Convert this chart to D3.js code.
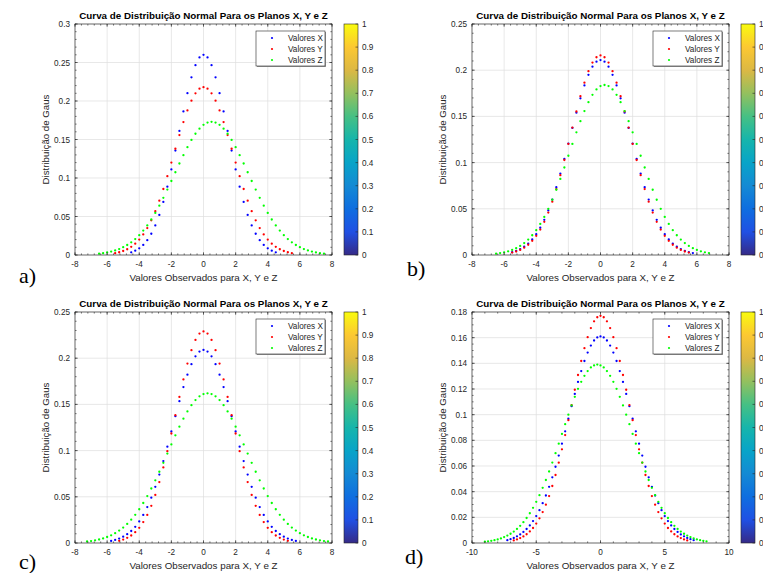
<!DOCTYPE html>
<html>
<head>
<meta charset="utf-8">
<script src="https://cdn.jsdelivr.net/npm/d3@7"></script>
<style>
  body { margin: 0; background: #fff; }
  svg { display: block; }
</style>
</head>
<body>
<svg id="fig" width="763" height="573"></svg>
<script>
// Four panels of normal curves (X, Y, Z), one x grid per panel
const seriesNames = ["Valores X", "Valores Y", "Valores Z"];
const seriesColors = ["#0000ff", "#ff0000", "#00ff00"];
const titleText = "Curva de Distribuição Normal Para os Planos X, Y e Z";
const xLabelText = "Valores Observados para X, Y e Z";
const yLabelText = "Distribuição de Gaus";

// panel a)
const xA = [-6.5, -6.25, -6, -5.75, -5.5, -5.25, -5, -4.75, -4.5, -4.25, -4, -3.75, -3.5, -3.25, -3, -2.75, -2.5, -2.25, -2, -1.75, -1.5, -1.25, -1, -0.75, -0.5, -0.25, 0, 0.25, 0.5, 0.75, 1, 1.25, 1.5, 1.75, 2, 2.25, 2.5, 2.75, 3, 3.25, 3.5, 3.75, 4, 4.25, 4.5, 4.75, 5, 5.25, 5.5, 5.75, 6, 6.25, 6.5, 6.75, 7, 7.25, 7.5];
const yA_X = [null, null, null, null, null, null, null, null,
  0.0035, 0.0056, 0.0087, 0.0131, 0.0193, 0.0276, 0.0384, 0.0521, 0.0689, 0.0887, 0.1111, 0.1356, 0.1612, 0.1865, 0.2102, 0.2307, 0.2465, 0.2566, 0.2600,
  0.2566, 0.2465, 0.2307, 0.2102, 0.1865, 0.1612, 0.1356, 0.1111, 0.0887, 0.0689, 0.0521, 0.0384, 0.0276, 0.0193, 0.0131, 0.0087, 0.0056, 0.0035,
  null, null, null, null, null, null, null, null, null, null, null, null];
const yA_Y = [null, null, null, null,
  0.0024, 0.0036, 0.0052, 0.0075, 0.0106, 0.0147, 0.0200, 0.0267, 0.0350, 0.0450, 0.0569, 0.0705, 0.0857, 0.1024, 0.1200, 0.1380, 0.1558, 0.1726, 0.1878, 0.2004, 0.2100, 0.2160, 0.2180,
  0.2160, 0.2100, 0.2004, 0.1878, 0.1726, 0.1558, 0.1380, 0.1200, 0.1024, 0.0857, 0.0705, 0.0569, 0.0450, 0.0350, 0.0267, 0.0200, 0.0147, 0.0106, 0.0075, 0.0052, 0.0036, 0.0024,
  null, null, null, null, null, null, null, null];
const yA_Z = [0.0017, 0.0024, 0.0033, 0.0044, 0.0059, 0.0077, 0.0101, 0.0130, 0.0165, 0.0207, 0.0258, 0.0317, 0.0384, 0.0461, 0.0547, 0.0641, 0.0742, 0.0850, 0.0961, 0.1075, 0.1188, 0.1297, 0.1400, 0.1494, 0.1575, 0.1641, 0.1690, 0.1720, 0.1730,
  0.1720, 0.1690, 0.1641, 0.1575, 0.1494, 0.1400, 0.1297, 0.1188, 0.1075, 0.0961, 0.0850, 0.0742, 0.0641, 0.0547, 0.0461, 0.0384, 0.0317, 0.0258, 0.0207, 0.0165, 0.0130, 0.0101, 0.0077, 0.0059, 0.0044, 0.0033, 0.0024, 0.0017];

// panel b)
const xB = [-6.5, -6.25, -6, -5.75, -5.5, -5.25, -5, -4.75, -4.5, -4.25, -4, -3.75, -3.5, -3.25, -3, -2.75, -2.5, -2.25, -2, -1.75, -1.5, -1.25, -1, -0.75, -0.5, -0.25, 0, 0.25, 0.5, 0.75, 1, 1.25, 1.5, 1.75, 2, 2.25, 2.5, 2.75, 3, 3.25, 3.5, 3.75, 4, 4.25, 4.5, 4.75, 5, 5.25, 5.5, 5.75, 6, 6.25, 6.5, 6.75];
const yB_X = [null, null, null, null,
  0.0031, 0.0045, 0.0064, 0.0090, 0.0124, 0.0169, 0.0225, 0.0295, 0.0381, 0.0482, 0.0600, 0.0733, 0.0881, 0.1040, 0.1206, 0.1375, 0.1540, 0.1696, 0.1835, 0.1950, 0.2038, 0.2092, 0.2110,
  0.2092, 0.2038, 0.1950, 0.1835, 0.1696, 0.1540, 0.1375, 0.1206, 0.1040, 0.0881, 0.0733, 0.0600, 0.0482, 0.0381, 0.0295, 0.0225, 0.0169, 0.0124, 0.0090, 0.0064, 0.0045, 0.0031, 0.0021,
  null, null, null, null];
const yB_Y = [null, null, null, null,
  0.0026, 0.0038, 0.0055, 0.0079, 0.0111, 0.0153, 0.0207, 0.0275, 0.0359, 0.0459, 0.0577, 0.0713, 0.0864, 0.1028, 0.1202, 0.1379, 0.1553, 0.1718, 0.1865, 0.1989, 0.2082, 0.2140, 0.2160,
  0.2140, 0.2082, 0.1989, 0.1865, 0.1718, 0.1553, 0.1379, 0.1202, 0.1028, 0.0864, 0.0713, 0.0577, 0.0459, 0.0359, 0.0275, 0.0207, 0.0153, 0.0111, 0.0079, 0.0055, 0.0038, 0.0026,
  null, null, null, null, null];
const yB_Z = [0.0014, 0.0021, 0.0029, 0.0040, 0.0055, 0.0074, 0.0098, 0.0129, 0.0167, 0.0214, 0.0269, 0.0336, 0.0412, 0.0500, 0.0598, 0.0706, 0.0823, 0.0947, 0.1074, 0.1202, 0.1328, 0.1448, 0.1558, 0.1654, 0.1733, 0.1792, 0.1828, 0.1840,
  0.1828, 0.1792, 0.1733, 0.1654, 0.1558, 0.1448, 0.1328, 0.1202, 0.1074, 0.0947, 0.0823, 0.0706, 0.0598, 0.0500, 0.0412, 0.0336, 0.0269, 0.0214, 0.0167, 0.0129, 0.0098, 0.0074, 0.0055, 0.0040, 0.0029, 0.0021];

// panel c)
const xC = [-7.25, -7, -6.75, -6.5, -6.25, -6, -5.75, -5.5, -5.25, -5, -4.75, -4.5, -4.25, -4, -3.75, -3.5, -3.25, -3, -2.75, -2.5, -2.25, -2, -1.75, -1.5, -1.25, -1, -0.75, -0.5, -0.25, 0, 0.25, 0.5, 0.75, 1, 1.25, 1.5, 1.75, 2, 2.25, 2.5, 2.75, 3, 3.25, 3.5, 3.75, 4, 4.25, 4.5, 4.75, 5, 5.25, 5.5, 5.75, 6, 6.25, 6.5, 6.75, 7, 7.25, 7.5, 7.75];
const yC_X = [null, null, null, null, null, null,
  0.0022, 0.0033, 0.0048, 0.0068, 0.0095, 0.0130, 0.0175, 0.0233, 0.0304, 0.0389, 0.0491, 0.0608, 0.0741, 0.0887, 0.1043, 0.1207, 0.1373, 0.1535, 0.1687, 0.1822, 0.1935, 0.2020, 0.2072, 0.2090,
  0.2072, 0.2020, 0.1935, 0.1822, 0.1687, 0.1535, 0.1373, 0.1207, 0.1043, 0.0887, 0.0741, 0.0608, 0.0491, 0.0389, 0.0304, 0.0233, 0.0175, 0.0130, 0.0095, 0.0068, 0.0048, 0.0033, 0.0022,
  null, null, null, null, null, null, null, null];
const yC_Y = [null, null, null, null, null, null, null, null,
  0.0024, 0.0037, 0.0056, 0.0081, 0.0117, 0.0164, 0.0226, 0.0304, 0.0402, 0.0520, 0.0659, 0.0818, 0.0994, 0.1185, 0.1383, 0.1581, 0.1770, 0.1942, 0.2087, 0.2198, 0.2267, 0.2290,
  0.2267, 0.2198, 0.2087, 0.1942, 0.1770, 0.1581, 0.1383, 0.1185, 0.0994, 0.0818, 0.0659, 0.0520, 0.0402, 0.0304, 0.0226, 0.0164, 0.0117, 0.0081, 0.0056, 0.0037, 0.0024,
  null, null, null, null, null, null, null, null, null, null];
const yC_Z = [0.0016, 0.0021, 0.0029, 0.0038, 0.0050, 0.0065, 0.0083, 0.0106, 0.0134, 0.0167, 0.0206, 0.0252, 0.0305, 0.0365, 0.0433, 0.0508, 0.0590, 0.0678, 0.0771, 0.0868, 0.0968, 0.1067, 0.1165, 0.1259, 0.1346, 0.1424, 0.1492, 0.1547, 0.1587, 0.1612, 0.1620,
  0.1612, 0.1587, 0.1547, 0.1492, 0.1424, 0.1346, 0.1259, 0.1165, 0.1067, 0.0968, 0.0868, 0.0771, 0.0678, 0.0590, 0.0508, 0.0433, 0.0365, 0.0305, 0.0252, 0.0206, 0.0167, 0.0134, 0.0106, 0.0083, 0.0065, 0.0050, 0.0038, 0.0029, 0.0021, 0.0016];

// panel d)
const xD = [-9, -8.75, -8.5, -8.25, -8, -7.75, -7.5, -7.25, -7, -6.75, -6.5, -6.25, -6, -5.75, -5.5, -5.25, -5, -4.75, -4.5, -4.25, -4, -3.75, -3.5, -3.25, -3, -2.75, -2.5, -2.25, -2, -1.75, -1.5, -1.25, -1, -0.75, -0.5, -0.25, 0, 0.25, 0.5, 0.75, 1, 1.25, 1.5, 1.75, 2, 2.25, 2.5, 2.75, 3, 3.25, 3.5, 3.75, 4, 4.25, 4.5, 4.75, 5, 5.25, 5.5, 5.75, 6, 6.25, 6.5, 6.75, 7, 7.25, 7.5, 7.75, 8, 8.25];
const yD_X = [null, null, null, null, null, null, null,
  0.0022, 0.0030, 0.0039, 0.0052, 0.0067, 0.0086, 0.0109, 0.0137, 0.0171, 0.0210, 0.0256, 0.0310, 0.0370, 0.0438, 0.0512, 0.0594, 0.0681, 0.0774, 0.0870, 0.0968, 0.1066, 0.1162, 0.1255, 0.1340, 0.1418, 0.1484, 0.1538, 0.1578, 0.1602, 0.1610,
  0.1602, 0.1578, 0.1538, 0.1484, 0.1418, 0.1340, 0.1255, 0.1162, 0.1066, 0.0968, 0.0870, 0.0774, 0.0681, 0.0594, 0.0512, 0.0438, 0.0370, 0.0310, 0.0256, 0.0210, 0.0171, 0.0137, 0.0109, 0.0086, 0.0067, 0.0052, 0.0039, 0.0030, 0.0022,
  null, null, null, null];
const yD_Y = [null, null, null, null, null, null, null, null, null,
  0.0020, 0.0028, 0.0038, 0.0051, 0.0068, 0.0090, 0.0117, 0.0151, 0.0192, 0.0241, 0.0299, 0.0366, 0.0444, 0.0530, 0.0626, 0.0730, 0.0841, 0.0957, 0.1075, 0.1194, 0.1309, 0.1418, 0.1518, 0.1604, 0.1675, 0.1727, 0.1759, 0.1770,
  0.1759, 0.1727, 0.1675, 0.1604, 0.1518, 0.1418, 0.1309, 0.1194, 0.1075, 0.0957, 0.0841, 0.0730, 0.0626, 0.0530, 0.0444, 0.0366, 0.0299, 0.0241, 0.0192, 0.0151, 0.0117, 0.0090, 0.0068, 0.0051, 0.0038, 0.0028, 0.0020,
  null, null, null, null, null, null];
const yD_Z = [0.0010, 0.0013, 0.0017, 0.0022, 0.0028, 0.0036, 0.0046, 0.0058, 0.0072, 0.0089, 0.0110, 0.0134, 0.0162, 0.0195, 0.0232, 0.0274, 0.0321, 0.0373, 0.0430, 0.0491, 0.0557, 0.0627, 0.0700, 0.0774, 0.0850, 0.0926, 0.1000, 0.1072, 0.1139, 0.1201, 0.1256, 0.1303, 0.1340, 0.1368, 0.1384, 0.1390,
  0.1384, 0.1368, 0.1340, 0.1303, 0.1256, 0.1201, 0.1139, 0.1072, 0.1000, 0.0926, 0.0850, 0.0774, 0.0700, 0.0627, 0.0557, 0.0491, 0.0430, 0.0373, 0.0321, 0.0274, 0.0232, 0.0195, 0.0162, 0.0134, 0.0110, 0.0089, 0.0072, 0.0058, 0.0046, 0.0036, 0.0028, 0.0022, 0.0017, 0.0013];

// ticks
const xTicks8 = [-8, -6, -4, -2, 0, 2, 4, 6, 8];
const xTicks10 = [-10, -5, 0, 5, 10];
const yTicks30 = [0, 0.05, 0.1, 0.15, 0.2, 0.25, 0.3];
const yTicks25 = [0, 0.05, 0.1, 0.15, 0.2, 0.25];
const yTicks18 = [0, 0.02, 0.04, 0.06, 0.08, 0.1, 0.12, 0.14, 0.16, 0.18];
const cbTicks = [0, 0.1, 0.2, 0.3, 0.4, 0.5, 0.6, 0.7, 0.8, 0.9, 1];
// parula-like colorbar stops
const parulaStops = ["#352a87", "#2050e4", "#0f6ee0", "#148ad4", "#08a4c8", "#16b5ab", "#46c084", "#94c05e", "#dcb844", "#fcc832", "#f9fb0e"];

const panels = [
  { tag: "a)", ox: 0, oy: 0, tagX: 19, tagY: 283, x: xA, ys: [yA_X, yA_Y, yA_Z],
    xDom: [-8, 8], yDom: [0, 0.3], xt: xTicks8, yt: yTicks30, xMinor: 0.4, yMinor: 0.01 },
  { tag: "b)", ox: 397, oy: 0, tagX: 10, tagY: 276, x: xB, ys: [yB_X, yB_Y, yB_Z],
    xDom: [-8, 8], yDom: [0, 0.25], xt: xTicks8, yt: yTicks25, xMinor: 0.4, yMinor: 0.01 },
  { tag: "c)", ox: 0, oy: 288, tagX: 19, tagY: 281, x: xC, ys: [yC_X, yC_Y, yC_Z],
    xDom: [-8, 8], yDom: [0, 0.25], xt: xTicks8, yt: yTicks25, xMinor: 0.4, yMinor: 0.01 },
  { tag: "d)", ox: 397, oy: 288, tagX: 8, tagY: 276, x: xD, ys: [yD_X, yD_Y, yD_Z],
    xDom: [-10, 10], yDom: [0, 0.18], xt: xTicks10, yt: yTicks18, xMinor: 1, yMinor: 0.005 },
];

const svg = d3.select("#fig");
const FONT = "'Liberation Sans', Arial, Helvetica, sans-serif";
const AX = "#262626";
const PL = 75, PT = 24, PW = 257, PH = 231;
const CBX = 344, CBW = 14;

const defs = svg.append("defs");
const grad = defs.append("linearGradient")
  .attr("id", "parula").attr("x1", 0).attr("y1", 1).attr("x2", 0).attr("y2", 0);
parulaStops.forEach((c, i) => {
  grad.append("stop").attr("offset", i / (parulaStops.length - 1)).attr("stop-color", c);
});

const fmt = (v) => String(+v.toFixed(3));

function drawPanel(p) {
  const g = svg.append("g").attr("transform", `translate(${p.ox},${p.oy})`);
  const x = d3.scaleLinear().domain(p.xDom).range([PL, PL + PW]);
  const y = d3.scaleLinear().domain(p.yDom).range([PT + PH, PT]);

  g.append("rect").attr("x", PL).attr("y", PT).attr("width", PW).attr("height", PH).attr("fill", "#fff");

  // grid
  const grid = g.append("g").attr("stroke", "#dedede").attr("stroke-width", 0.7);
  grid.selectAll("line.gx").data(p.xt.slice(1, -1)).enter().append("line")
    .attr("x1", (d) => x(d)).attr("x2", (d) => x(d)).attr("y1", PT).attr("y2", PT + PH);
  grid.selectAll("line.gy").data(p.yt.slice(1, -1)).enter().append("line")
    .attr("y1", (d) => y(d)).attr("y2", (d) => y(d)).attr("x1", PL).attr("x2", PL + PW);

  // data dots
  p.ys.forEach((ys, si) => {
    const pts = p.x.map((xv, i) => [xv, ys[i]]).filter((d) => d[1] != null);
    g.append("g").attr("fill", seriesColors[si])
      .selectAll("circle").data(pts).enter().append("circle")
      .attr("cx", (d) => x(d[0])).attr("cy", (d) => y(d[1])).attr("r", 1.15);
  });

  // ticks (inward, all four sides)
  const ticks = g.append("g").attr("stroke", AX).attr("stroke-width", 0.6);
  const xMin = d3.range(p.xDom[0], p.xDom[1] + 1e-9, p.xMinor);
  const yMin = d3.range(p.yDom[0], p.yDom[1] + 1e-9, p.yMinor);
  xMin.forEach((v) => {
    ticks.append("line").attr("x1", x(v)).attr("x2", x(v)).attr("y1", PT + PH).attr("y2", PT + PH - 1.6);
    ticks.append("line").attr("x1", x(v)).attr("x2", x(v)).attr("y1", PT).attr("y2", PT + 1.6);
  });
  yMin.forEach((v) => {
    ticks.append("line").attr("y1", y(v)).attr("y2", y(v)).attr("x1", PL).attr("x2", PL + 1.6);
    ticks.append("line").attr("y1", y(v)).attr("y2", y(v)).attr("x1", PL + PW).attr("x2", PL + PW - 1.6);
  });
  p.xt.forEach((v) => {
    ticks.append("line").attr("x1", x(v)).attr("x2", x(v)).attr("y1", PT + PH).attr("y2", PT + PH - 2.8);
    ticks.append("line").attr("x1", x(v)).attr("x2", x(v)).attr("y1", PT).attr("y2", PT + 2.8);
  });
  p.yt.forEach((v) => {
    ticks.append("line").attr("y1", y(v)).attr("y2", y(v)).attr("x1", PL).attr("x2", PL + 2.8);
    ticks.append("line").attr("y1", y(v)).attr("y2", y(v)).attr("x1", PL + PW).attr("x2", PL + PW - 2.8);
  });

  g.append("rect").attr("x", PL).attr("y", PT).attr("width", PW).attr("height", PH)
    .attr("fill", "none").attr("stroke", AX).attr("stroke-width", 0.7);

  // tick labels
  g.append("g").selectAll("text").data(p.xt).enter().append("text")
    .attr("x", (d) => x(d)).attr("y", PT + PH + 12)
    .attr("text-anchor", "middle").attr("font-family", FONT).attr("font-size", 8.2).attr("fill", AX)
    .text((d) => fmt(d));
  g.append("g").selectAll("text").data(p.yt).enter().append("text")
    .attr("x", PL - 5).attr("y", (d) => y(d) + 3)
    .attr("text-anchor", "end").attr("font-family", FONT).attr("font-size", 8.2).attr("fill", AX)
    .text((d) => fmt(d));

  // title and axis labels
  g.append("text").attr("x", PL + PW / 2).attr("y", PT - 5)
    .attr("text-anchor", "middle").attr("font-family", FONT).attr("font-size", 9.8)
    .attr("font-weight", "bold").attr("fill", "#000").text(titleText);
  g.append("text").attr("x", PL + PW / 2).attr("y", PT + PH + 26)
    .attr("text-anchor", "middle").attr("font-family", FONT).attr("font-size", 9.8)
    .attr("fill", AX).text(xLabelText);
  g.append("text").attr("transform", `translate(49,${PT + PH / 2}) rotate(-90)`)
    .attr("text-anchor", "middle").attr("font-family", FONT).attr("font-size", 9.7)
    .attr("fill", AX).text(yLabelText);

  // legend
  const lx = PL + PW - 76, ly = PT + 7, lw = 69, lh = 35;
  const leg = g.append("g");
  leg.append("rect").attr("x", lx + 1).attr("y", ly + 1).attr("width", lw).attr("height", lh).attr("fill", "#9a9a9a");
  leg.append("rect").attr("x", lx).attr("y", ly).attr("width", lw).attr("height", lh)
    .attr("fill", "#fff").attr("stroke", AX).attr("stroke-width", 0.6);
  seriesNames.forEach((name, i) => {
    const cy = ly + 7 + i * 11;
    leg.append("circle").attr("cx", lx + 16).attr("cy", cy).attr("r", 1.1).attr("fill", seriesColors[i]);
    leg.append("text").attr("x", lx + 32).attr("y", cy + 3)
      .attr("font-family", FONT).attr("font-size", 8.2).attr("fill", AX).text(name);
  });

  // colorbar
  const cy = d3.scaleLinear().domain([0, 1]).range([PT + PH, PT]);
  g.append("rect").attr("x", CBX).attr("y", PT).attr("width", CBW).attr("height", PH)
    .attr("fill", "url(#parula)").attr("stroke", AX).attr("stroke-width", 0.6);
  const cb = g.append("g");
  cbTicks.forEach((v) => {
    cb.append("line").attr("x1", CBX + CBW).attr("x2", CBX + CBW - 2.5)
      .attr("y1", cy(v)).attr("y2", cy(v)).attr("stroke", AX).attr("stroke-width", 0.6);
    cb.append("text").attr("x", CBX + CBW + 4).attr("y", cy(v) + 3)
      .attr("font-family", FONT).attr("font-size", 8.2).attr("fill", AX).text(fmt(v));
  });

  // panel tag
  g.append("text").attr("x", p.tagX).attr("y", p.tagY)
    .attr("font-family", "'Liberation Serif', 'Times New Roman', serif").attr("font-size", 22)
    .attr("fill", "#000").text(p.tag);
}

panels.forEach(drawPanel);
</script>
</body>
</html>
